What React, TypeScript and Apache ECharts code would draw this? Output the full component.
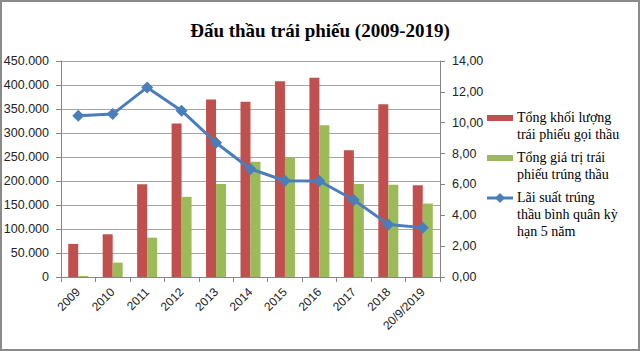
import React, { useEffect, useRef } from "react";
import * as echarts from "echarts";

const categories = ["2009", "2010", "2011", "2012", "2013", "2014", "2015", "2016", "2017", "2018", "20/9/2019"];
const offered = [69000, 89000, 193000, 320000, 370000, 365000, 408000, 415000, 264000, 360000, 191000];
const won = [2000, 30000, 82000, 167000, 194000, 240000, 249000, 316000, 194000, 192000, 153000];
const rate = [10.45, 10.56, 12.29, 10.78, 8.7, 7.0, 6.24, 6.22, 4.99, 3.41, 3.2];
const seriesNames = [
  "Tổng khối lượng\ntrái phiếu gọi thầu",
  "Tổng giá trị trái\nphiếu trúng thầu",
  "Lãi suất trúng\nthầu bình quân kỳ\nhạn 5 năm",
];
const title = "Đấu thầu trái phiếu (2009-2019)";

const RED = "#C0504D";
const GREEN = "#9BBB59";
const BLUE = "#4A7EBB";
const SERIF = "'Liberation Serif', 'Times New Roman', serif";

export default function App() {
  const ref = useRef<HTMLDivElement>(null);
  useEffect(() => {
    if (!ref.current) return;
    const chart = echarts.init(ref.current, null, { renderer: "svg" });
    const axisLabel = { fontFamily: "Liberation Sans", fontSize: 12, color: "#222" };
    const legendTextStyle = {
      fontFamily: SERIF,
      fontSize: 14,
      fontWeight: "normal",
      color: "#000",
      lineHeight: 17,
    };
    const legendTitle = (text: string, top: number) => ({
      text,
      left: 517,
      top,
      padding: 0,
      textStyle: legendTextStyle,
    });
    chart.setOption({
      animation: false,
      backgroundColor: "#fff",
      title: [
        {
          text: title,
          left: "center",
          top: 16,
          textStyle: { fontFamily: SERIF, fontWeight: "bold", fontSize: 19, color: "#000" },
        },
        legendTitle(seriesNames[0], 109),
        legendTitle(seriesNames[1], 149),
        legendTitle(seriesNames[2], 189),
      ],
      grid: { left: 61, right: 200, top: 61, bottom: 74 },
      xAxis: {
        type: "category",
        data: categories,
        axisLine: { lineStyle: { color: "#868686" } },
        axisTick: { show: true, length: 5, lineStyle: { color: "#868686" } },
        axisLabel: { ...axisLabel, rotate: 45, margin: 13, interval: 0 },
      },
      yAxis: [
        {
          type: "value",
          min: 0,
          max: 450000,
          interval: 50000,
          axisLine: { show: true, lineStyle: { color: "#868686" } },
          axisTick: { show: true, length: 5, lineStyle: { color: "#868686" } },
          splitLine: { lineStyle: { color: "#a6a6a6" } },
          axisLabel: {
            ...axisLabel,
            fontSize: 12.5,
            margin: 12,
            formatter: (v: number) => (v === 0 ? "0" : (v / 1000).toFixed(0) + ".000"),
          },
        },
        {
          type: "value",
          min: 0,
          max: 14,
          interval: 2,
          position: "right",
          axisLine: { show: true, lineStyle: { color: "#868686" } },
          axisTick: { show: true, length: 5, lineStyle: { color: "#868686" } },
          splitLine: { show: false },
          axisLabel: { ...axisLabel, fontSize: 12.5, margin: 12, formatter: (v: number) => v.toFixed(2).replace(".", ",") },
        },
      ],
      series: [
        {
          name: seriesNames[0],
          type: "bar",
          data: offered,
          barWidth: 10,
          barGap: "0%",
          itemStyle: { color: RED },
        },
        {
          name: seriesNames[1],
          type: "bar",
          data: won,
          barWidth: 10,
          itemStyle: { color: GREEN },
        },
        {
          name: seriesNames[2],
          type: "line",
          yAxisIndex: 1,
          data: rate,
          symbol: "diamond",
          symbolSize: 12,
          lineStyle: { color: BLUE, width: 3 },
          itemStyle: { color: BLUE },
        },
      ],
      graphic: [
        { type: "rect", shape: { x: 487, y: 115, width: 26, height: 6 }, style: { fill: RED } },
        { type: "rect", shape: { x: 487, y: 155, width: 26, height: 6 }, style: { fill: GREEN } },
        { type: "line", shape: { x1: 487, y1: 198, x2: 513, y2: 198 }, style: { stroke: BLUE, lineWidth: 3 } },
        {
          type: "polygon",
          shape: { points: [[500, 193], [505, 198], [500, 203], [495, 198]] },
          style: { fill: BLUE },
        },
      ],
    });
    return () => chart.dispose();
  }, []);
  return (
    <div style={{ position: "fixed", left: 0, top: 0, width: 640, height: 351, background: "#fff" }}>
      <div ref={ref} style={{ position: "absolute", left: 0, top: 0, width: 640, height: 351 }} />
      <div
        style={{
          position: "absolute",
          left: 0,
          top: 0,
          width: 640,
          height: 351,
          boxSizing: "border-box",
          border: "2px solid #8a8a8a",
          pointerEvents: "none",
        }}
      />
    </div>
  );
}
